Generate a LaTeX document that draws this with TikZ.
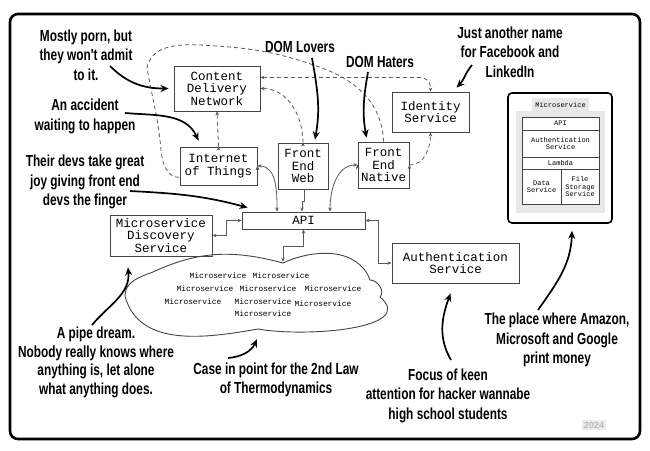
\documentclass[tikz,border=0pt]{standalone}
\usepackage{fontspec}
\setmainfont{Liberation Sans}
\newfontfamily\handfont[FakeStretch=0.74]{Liberation Sans Bold}
\newfontfamily\boxfont{Liberation Mono}
\usetikzlibrary{arrows.meta}
\definecolor{boxgray}{HTML}{444444}
\definecolor{linkgray}{HTML}{5A5A5A}
\tikzset{
  box/.style={shape=rectangle,draw=boxgray,line width=0.9pt,fill=white,align=center,inner sep=0pt,
    font=\boxfont\fontsize{12.5}{12.5}\selectfont},
  note/.style={align=center,inner sep=0pt,font=\handfont\fontsize{16}{19.5}\selectfont},
  link/.style={draw=linkgray,line width=0.8pt,<->},
  dlink/.style={draw=linkgray,line width=0.8pt,dash pattern=on 4pt off 3pt,->},
  pointer/.style={draw=black,line width=1.7pt,-{Stealth[length=8pt,width=7pt]}},
  mini/.style={shape=rectangle,draw=boxgray,line width=0.6pt,fill=white,align=center,inner sep=0pt,
    font=\boxfont\fontsize{7}{7.5}\selectfont},
  msword/.style={inner sep=0pt,font=\boxfont\fontsize{7.9}{8}\selectfont},
}
\begin{document}
\begin{tikzpicture}[x=1pt,y=-1pt,>={Stealth[length=4pt,width=3.5pt]}]
\useasboundingbox (0,0) rectangle (650,450);
% frame
\draw[line width=2.6pt,rounded corners=8pt] (10,14) rectangle (640,439);

% boxes
\node[box,minimum width=86pt,minimum height=45pt] (cdn) at (217,88.5) {Content\\Delivery\\Network};
\node[box,minimum width=77pt,minimum height=38pt] (iot) at (218.5,166) {Internet\\of Things};
\node[box,minimum width=50pt,minimum height=46pt] (few) at (303,166) {Front\\End\\Web};
\node[box,minimum width=51pt,minimum height=46pt] (fen) at (383.5,165) {Front\\End\\Native};
\node[box,minimum width=77pt,minimum height=40pt] (ids) at (430.5,112) {Identity\\Service};
\node[box,minimum width=123pt,minimum height=17pt] (api) at (303.5,220.5) {API};
\node[box,minimum width=102pt,minimum height=41pt] (mds) at (161,235.5) {Microservice\\Discovery\\Service};
\node[box,minimum width=127pt,minimum height=40pt] (auth) at (455.5,263) {Authentication\\Service};

% cloud of microservices
\node[minimum width=260pt,minimum height=68pt,inner sep=0pt] (cloud) at (255,296) {};
\draw[boxgray,line width=0.9pt] (125,296) to[out=90,in=200] (153,272)
  to[out=25,in=165] (283,263) to[out=25,in=110] (370,280)
  to[out=0,in=45] (380,297) to[out=-40,in=-10] (258,329)
  to[out=-170,in=-75] cycle;
\foreach \x/\y [count=\i] in {218/276,281/276,205/289,268/289,333/289,193/302,263/302,323/304,263/314}
  \node[msword] (ms\i) at (\x,\y) {Microservice};

% dashed links
\path [dlink] (iot.north) edge (cdn.south);
\path [dlink] (few.north) edge[out=90,in=0] (cdn.east);
\path [dlink] (fen.east) edge[out=0,in=-90] (ids.south);
\draw[dlink,<->,rounded corners=10pt] ([yshift=11pt]cdn.east) -| (ids.north);
\draw[dlink,-] (fen.north) to[out=92,in=-20] (322,68) to[out=160,in=-3] (200,45)
  to[out=177,in=80] (147,68) to[out=-80,in=95] (161,150) to[out=-85,in=180] ([yshift=8pt]iot.south west);

% solid links
\path [link] (iot.east) edge[out=0,in=90] ([xshift=-26.5pt]api.north);
\path [link] (fen.west) edge[out=180,in=90] ([xshift=26.5pt]api.north);
\draw[link,->] ([xshift=1pt]few.south) -- ++(0,12) -| ([xshift=-1.5pt]api.north);
\draw[link] (api.west) -- ++(-15,0) |- (mds.east);
\draw[link] (api.south) -- ++(0,17) -| ([xshift=28pt]cloud.north);
\draw[link] (api.east) -- ++(13,0) |- (auth.west);

% microservice sketch
\node[draw=black,line width=1.6pt,rounded corners=4pt,minimum width=104pt,minimum height=130pt] (mdiag) at (560,158) {};
\node[fill=gray!18,minimum width=89pt,minimum height=102pt,inner sep=0pt] (mbody) at (560.5,162) {};
\node[fill=gray!18,minimum width=57pt,minimum height=13pt,inner sep=0pt,font=\boxfont\fontsize{7}{7}\selectfont] (mtab) at (560.5,104.5) {Microservice};
\node[mini,minimum width=77pt,minimum height=13pt] (mapi) at (560.5,123.5) {API};
\node[mini,minimum width=77pt,minimum height=27pt] (mauth) at (560.5,143.5) {Authentication\\Service};
\node[mini,minimum width=77pt,minimum height=12pt] (mlambda) at (560.5,163) {Lambda};
\node[mini,minimum width=39pt,minimum height=35pt] (mdata) at (541.5,186.5) {Data\\Service};
\node[mini,minimum width=38pt,minimum height=35pt] (mfile) at (580,186.5) {File\\Storage\\Service};

% notes
\node[note] (n1) at (86,55) {Mostly porn, but\\they won't admit\\to it.};
\node[note] (n2) at (85,116.5) {An accident\\waiting to happen};
\node[note] (n3) at (85,182) {Their devs take great\\joy giving front end\\devs the finger};
\node[note] (n4) at (300,47) {DOM Lovers};
\node[note] (n5) at (380,62) {DOM Haters};
\node[note] (n6) at (510,52) {Just another name\\for Facebook and\\LinkedIn};
\node[note,font=\handfont\fontsize{16}{18.5}\selectfont] (n7) at (96,362.5) {A pipe dream.\\Nobody really knows where\\anything is, let alone\\what anything does.};
\node[note] (n8) at (276,380) {Case in point for the 2nd Law\\of Thermodynamics};
\node[note] (n9) at (448,395.5) {Focus of keen\\attention for hacker wannabe\\high school students};
\node[note] (n10) at (557,340) {The place where Amazon,\\Microsoft and Google\\print money};
\node[fill=gray!15,text=gray!55,inner sep=1.5pt,font=\bfseries\fontsize{9}{9}\selectfont] (sig) at (594,425) {2024};

% pointers
\coordinate (t1) at (110,66);
\coordinate (t2) at (125,113);
\coordinate (t3) at (130,191);
\coordinate (t4) at (312,58);
\coordinate (t5) at (368,72);
\coordinate (t6) at (472,65);
\coordinate (t7) at (92,325);
\coordinate (t8) at (228,358);
\coordinate (t9) at (451,360);
\coordinate (t10) at (538,310);
\draw[pointer] (t1) to[out=-45,in=180] ([xshift=-5pt]cdn.west);
\draw[pointer] (t2) to[out=-5,in=115] ([xshift=19pt,yshift=6pt]iot.north west);
\draw[pointer] (t3) to[out=-3,in=165] ([xshift=6pt,yshift=4pt]api.north west);
\draw[pointer] (t4) to[out=-80,in=80] ([xshift=12pt,yshift=3pt]few.north);
\draw[pointer] (t5) to[out=-100,in=100] ([xshift=-17pt,yshift=4pt]fen.north);
\draw[pointer] (t6) to[out=-130,in=45] ([xshift=26pt,yshift=4pt]ids.north);
\draw[pointer] (t7) to[out=50,in=-85] ([xshift=-33pt,yshift=-11pt]mds.south);
\draw[pointer] (t8) to[out=5,in=-115] ([xshift=2pt,yshift=-9pt]cloud.south);
\draw[pointer] (t9) to[out=120,in=-110] ([xshift=-5pt,yshift=-10pt]auth.south);
\draw[pointer] (t10) to[out=55,in=-92] ([xshift=12pt,yshift=-7pt]mdiag.south);
\end{tikzpicture}
\end{document}
